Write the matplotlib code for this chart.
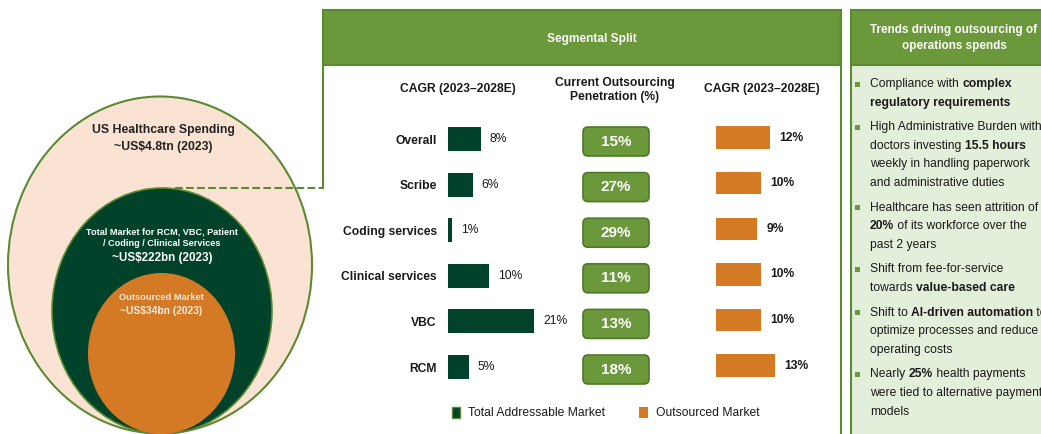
import numpy as np
import matplotlib.pyplot as plt
from matplotlib.patches import Ellipse, Rectangle, FancyBboxPatch

plt.rcParams['font.family'] = ['Liberation Sans', 'DejaVu Sans']

# segment data
segments = ["Overall", "Scribe", "Coding services", "Clinical services", "VBC", "RCM"]
tam_cagr = [8, 6, 1, 10, 21, 5]
penetration = [15, 27, 29, 11, 13, 18]
outsourced_cagr = [12, 10, 9, 10, 10, 13]

# nested market sizes
spend_title = ["US Healthcare Spending", "~US\\$4.8tn (2023)"]
tam_title = ["Total Market for RCM, VBC, Patient", "/ Coding / Clinical Services", "~US\\$222bn (2023)"]
out_title = ["Outsourced Market", "~US\\$34bn (2023)"]

# trend bullets: each line is a list of (text, bold) pieces
trends = [
    [[("Compliance with ", False), ("complex", True)],
     [("regulatory requirements", True)]],
    [[("High Administrative Burden with", False)],
     [("doctors investing ", False), ("15.5 hours", True)],
     [("weekly in handling paperwork", False)],
     [("and administrative duties", False)]],
    [[("Healthcare has seen attrition of", False)],
     [("20%", True), (" of its workforce over the", False)],
     [("past 2 years", False)]],
    [[("Shift from fee-for-service", False)],
     [("towards ", False), ("value-based care", True)]],
    [[("Shift to ", False), ("AI-driven automation", True), (" to", False)],
     [("optimize processes and reduce", False)],
     [("operating costs", False)]],
    [[("Nearly ", False), ("25%", True), (" health payments", False)],
     [("were tied to alternative payments", False)],
     [("models", False)]],
]

DARK = '#00432A'
ORANGE = '#D57A24'
OLIVE = '#6B983B'
EDGE = '#5B8A32'
PEACH = '#FBE3D3'
MINT = '#E3EFDA'
TXT = '#1A1A1A'
FS = 8.7  # body text size

W, H = 1041, 434
fig = plt.figure(figsize=(W / 100, H / 100), dpi=100)
ax = fig.add_axes([0, 0, 1, 1])
ax.set_xlim(0, W)
ax.set_ylim(H, 0)
ax.axis('off')

# nested ellipses
ax.add_patch(Ellipse((160, 265), 304, 337, fc=PEACH, ec=EDGE, lw=1.5))
ax.add_patch(Ellipse((162, 311), 220, 246, fc=DARK, ec=EDGE, lw=1.2))
ax.add_patch(Ellipse((161.5, 353.5), 147, 161, fc=ORANGE, ec='none'))

ax.text(163, 130, spend_title[0], ha='center', va='center', fontsize=8.8, fontweight='bold', color='#222222')
ax.text(163, 147, spend_title[1], ha='center', va='center', fontsize=8.8, fontweight='bold', color='#222222')
ax.text(162, 232, tam_title[0], ha='center', va='center', fontsize=6.6, fontweight='bold', color='white')
ax.text(162, 244, tam_title[1], ha='center', va='center', fontsize=6.6, fontweight='bold', color='white')
ax.text(162, 258, tam_title[2], ha='center', va='center', fontsize=8.4, fontweight='bold', color='white')
ax.text(161, 297, out_title[0], ha='center', va='center', fontsize=6.7, fontweight='bold', color='#FCEBDD')
ax.text(161, 311, out_title[1], ha='center', va='center', fontsize=7.4, fontweight='bold', color='#FCEBDD')

# connector to the segment panel
ax.plot([175, 323], [188, 188], ls='--', color=EDGE, lw=1.5)
ax.plot([323, 323], [10, 188], color=EDGE, lw=1.5)

# segment panel
ax.plot([841, 841], [10, H], color=EDGE, lw=1.5)
ax.add_patch(Rectangle((323, 10), 518, 55, fc=OLIVE, ec=EDGE, lw=1.5))
ax.text(592, 39, "Segmental Split", ha='center', va='center', fontsize=8.6, fontweight='bold', color='white')
ax.text(458, 89, "CAGR (2023\u20132028E)", ha='center', va='center', fontsize=FS, fontweight='bold', color=TXT)
ax.text(615, 90, "Current Outsourcing\nPenetration (%)", ha='center', va='center', fontsize=FS,
        fontweight='bold', color=TXT, linespacing=1.3)
ax.text(762, 89, "CAGR (2023\u20132028E)", ha='center', va='center', fontsize=FS, fontweight='bold', color=TXT)

row0, step = 139, 45.6
n = len(segments)
ypos = np.arange(n)
ax_top = row0 - step / 2
ax_h = step * n


def bar_axes(left_px, px_per_pct, max_pct):
    a = fig.add_axes([left_px / W, 1 - (ax_top + ax_h) / H, px_per_pct * max_pct / W, ax_h / H])
    a.set_xlim(0, max_pct)
    a.set_ylim(n - 0.5, -0.5)
    a.patch.set_alpha(0)
    for s in a.spines.values():
        s.set_visible(False)
    a.set_xticks([])
    return a


ax_tam = bar_axes(448, 4.1, 30)
ax_tam.barh(ypos, tam_cagr, height=0.53, color=DARK)
ax_tam.set_yticks(ypos)
ax_tam.set_yticklabels(segments, fontsize=FS, fontweight='bold', color=TXT)
ax_tam.tick_params(axis='y', length=0, pad=8)
for i, v in enumerate(tam_cagr):
    ax_tam.annotate(f"{v}%", (v, i), xytext=(6.5, 0), textcoords='offset points',
                    ha='left', va='center', fontsize=FS, color=TXT)

ax_out = bar_axes(716, 4.5, 20)
ax_out.barh(ypos - 0.03, outsourced_cagr, height=0.49, color=ORANGE)
ax_out.set_yticks([])
for i, v in enumerate(outsourced_cagr):
    ax_out.annotate(f"{v}%", (v, i - 0.03), xytext=(7, 0), textcoords='offset points',
                    ha='left', va='center', fontsize=FS, fontweight='bold', color=TXT)

# penetration badges
for i, p in enumerate(penetration):
    yc = row0 + i * step + 2.5
    ax.add_patch(FancyBboxPatch((583, yc - 14.5), 66, 29, boxstyle="round,pad=0,rounding_size=5",
                                fc=OLIVE, ec='#4E7A28', lw=1.2))
    ax.text(616, yc, f"{p}%", ha='center', va='center', fontsize=11, fontweight='bold', color='white')

# legend
ax.add_patch(Rectangle((452, 407), 8, 11, fc=DARK, ec=EDGE, lw=1))
ax.text(468, 412.5, "Total Addressable Market", ha='left', va='center', fontsize=FS, color=TXT)
ax.add_patch(Rectangle((639, 407), 9, 11, fc=ORANGE, ec='none'))
ax.text(656, 412.5, "Outsourced Market", ha='left', va='center', fontsize=FS, color=TXT)

# trends panel
ax.add_patch(Rectangle((851, 65), 200, 380, fc=MINT, ec='none'))
ax.add_patch(Rectangle((851, 10), 200, 55, fc=OLIVE, ec=EDGE, lw=1.5))
ax.plot([851, 851], [10, H], color=EDGE, lw=1.5)
ax.text(954, 38, "Trends driving outsourcing of\noperations spends", ha='center', va='center',
        fontsize=8.5, fontweight='bold', color='white', linespacing=1.35)

renderer = fig.canvas.get_renderer()


def piece_width(s, weight):
    t = ax.text(0, 0, 'x' + s + 'x', fontsize=FS, fontweight=weight)
    r = ax.text(0, 0, 'xx', fontsize=FS, fontweight=weight)
    w = t.get_window_extent(renderer).width - r.get_window_extent(renderer).width
    t.remove()
    r.remove()
    return w


y = 84
for bullet in trends:
    ax.add_patch(Rectangle((855, y - 2.5), 5, 5, fc=OLIVE, ec='none'))
    for line in bullet:
        x = 870
        for s, bold in line:
            weight = 'bold' if bold else 'normal'
            ax.text(x, y, s, ha='left', va='center', fontsize=FS, fontweight=weight, color=TXT)
            x += piece_width(s, weight)
        y += 18.6
    y += 6

fig.savefig('out.png', dpi=100)
